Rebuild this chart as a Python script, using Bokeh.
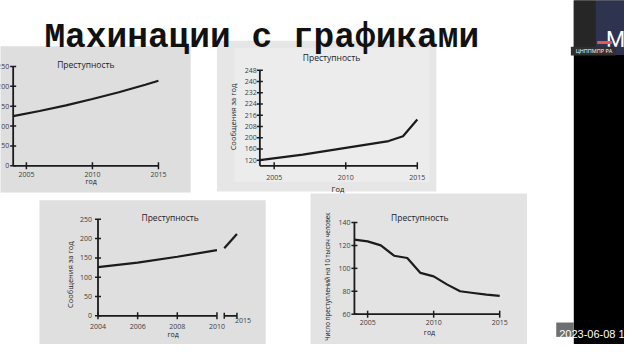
import numpy as np
from bokeh.plotting import figure
from bokeh.models import Range1d
from bokeh.embed import file_html
from bokeh.resources import INLINE
from bokeh.core.properties import value

# ---------------- data ----------------
SLIDE_TITLE = "Махинации с графиками"
CHART_TITLE = "Преступность"
Y_LABEL = "Сообщения за год"
Y_LABEL_4 = "Число преступлений на 10 тысяч человек"

# chart 1 (top-left): y axis from 0
c1_xlim = (2004, 2015)
c1_ylim = (0, 250)
c1_years = [2004, 2006, 2008, 2010, 2012, 2014, 2015]
c1_values = [125, 138, 152, 168, 185, 204, 214]
c1_yticks = [0, 50, 100, 150, 200, 250]
c1_xticks = [2005, 2010, 2015]

# chart 2 (top-right): irregular y axis
c2_xlim = (2004, 2015)
c2_years = [2004, 2007, 2010, 2013, 2014, 2015]
c2_values = [120, 140, 164, 188, 201, 213]
c2_ytick_values = [120, 160, 200, 208, 216, 224, 232, 240, 248]
c2_xticks = [2005, 2010, 2015]

# chart 3 (bottom-left): broken x axis
c3_xlim = (2004, 2010)
c3_xlim_b = (2014, 2015)
c3_ylim = (0, 250)
c3_years = [2004, 2006, 2008, 2010]
c3_values = [126, 138, 153, 170]
c3_years_b = [2014, 2015]
c3_values_b = [175, 212]
c3_yticks = [0, 50, 100, 150, 200, 250]
c3_xticks = [2004, 2006, 2008, 2010]
c3_xticks_b = [2015]

# chart 4 (bottom-right): rate per 10 000 people
c4_xlim = (2004, 2015)
c4_ylim = (60, 140)
c4_years = [2004, 2005, 2006, 2007, 2008, 2009, 2010, 2011, 2012, 2013, 2014, 2015]
c4_values = [125, 123.5, 120, 111, 109, 96, 93, 86, 80, 78.5, 77, 76]
c4_yticks = [60, 80, 100, 120, 140]
c4_xticks = [2005, 2010, 2015]

# ---------------- styling ----------------
INK = "#1b1b1b"
TICK_TXT = "#3c3c3c"
SANS = value("Open Sans")


def Y(y):
    return 360 - y


# the whole 640x360 slide is mapped onto the canvas
p = figure(width=624, height=344, x_range=Range1d(0, 640), y_range=Range1d(0, 360),
           output_backend="svg", toolbar_location=None, min_border=0,
           x_axis_location=None, y_axis_location=None)
p.grid.visible = False
p.outline_line_color = None
p.background_fill_color = "white"
p.border_fill_color = "white"

# photo panels
p.quad(left=[-2, 222, 40, 318], right=[195, 447, 272, 540],
       top=[Y(48), Y(42), Y(209), Y(202)], bottom=[Y(201), Y(200), Y(362), Y(362)],
       fill_color=["#dedede", "#e6e6e6", "#dfdfdf", "#e3e3e3"], line_color=None)
p.quad(left=[240], right=[440], top=[Y(50)], bottom=[Y(190)],
       fill_color="#ececec", line_color=None)

# right black strip & video thumbnail
p.quad(left=[588], right=[642], top=[Y(-2)], bottom=[Y(362)], fill_color="#000000", line_color=None)
p.quad(left=[588], right=[610], top=[Y(-2)], bottom=[Y(57)], fill_color="#262626", line_color=None)
p.quad(left=[610], right=[642], top=[Y(-2)], bottom=[Y(57)], fill_color="#2e3350", line_color=None)
p.text(x=[621], y=[Y(41)], text=["M"], text_color="white", text_font=value("Roboto"),
       text_font_size="22px", text_baseline="alphabetic")
p.quad(left=[612], right=[627], top=[Y(42.5)], bottom=[Y(45.5)], fill_color="#e05a5a", line_color=None)
p.quad(left=[585], right=[631], top=[Y(48.5)], bottom=[Y(57.5)], fill_color="#303030", line_color=None)
p.text(x=[590], y=[Y(53)], text=["ЦНППМПР РА"], text_color="white", text_font=SANS,
       text_font_size="5.5px", text_baseline="middle")

# timestamp
p.quad(left=[570], right=[588], top=[Y(337)], bottom=[Y(352)], fill_color="#6f6f6f", line_color=None)
p.text(x=[573], y=[Y(349)], text=["2023-06-08 1"], text_color="white",
       text_font=value("Liberation Sans"), text_font_size="11px", text_baseline="alphabetic")

# slide title
p.text(x=[45], y=[Y(39)], text=[SLIDE_TITLE], text_color="#111111",
       text_font=value("Liberation Mono"), text_font_style="bold", text_font_size="34.5px",
       text_baseline="alphabetic")


def sub(xs, px, ys, py):
    return p.subplot(x_source=Range1d(*xs), y_source=Range1d(*ys),
                     x_target=Range1d(*px), y_target=Range1d(Y(py[0]), Y(py[1])))


def axes(s, xlim, ylim, xticks, yticks, ylabels, xoff_y, yoff_x, fs="7px"):
    s.line(x=[xlim[0], xlim[0]], y=[ylim[0], ylim[1]], line_color=INK, line_width=1.8)
    s.line(x=[xlim[0], xlim[1]], y=[ylim[0], ylim[0]], line_color=INK, line_width=1.8)
    s.scatter(x=[xlim[0]] * len(yticks), y=yticks, marker="dash", size=6,
              line_color=INK, line_width=1.5)
    s.scatter(x=xticks, y=[ylim[0]] * len(xticks), marker="dash", size=7, angle=np.pi / 2,
              line_color=INK, line_width=1.5)
    s.text(x=[xlim[0]] * len(yticks), y=yticks, text=ylabels, x_offset=yoff_x,
           text_align="right", text_baseline="middle", text_font=SANS,
           text_font_size=fs, text_color=TICK_TXT)
    s.text(x=xticks, y=[ylim[0]] * len(xticks), text=[str(t) for t in xticks], y_offset=xoff_y,
           text_align="center", text_baseline="middle", text_font=SANS,
           text_font_size=fs, text_color=TICK_TXT)


def label(x, y, t, size="8.5px", angle=0.0, color="#222222"):
    p.text(x=[x], y=[Y(y)], text=[t], angle=angle, text_align="center", text_baseline="middle",
           text_font=SANS, text_font_size=size, text_color=color)


# ---- chart 1 ----
s1 = sub(c1_xlim, (13, 162), c1_ylim, (173, 69))
axes(s1, c1_xlim, c1_ylim, c1_xticks, c1_yticks, [str(v) for v in c1_yticks], 9, -4)
s1.line(c1_years, c1_values, line_color=INK, line_width=2.2)
label(87.5, 67, CHART_TITLE)
label(93, 189, "год", size="7px")

# ---- chart 2 ----
c2_pos = list(range(len(c2_ytick_values)))
c2_ylim = (-0.5, c2_pos[-1])
s2 = sub(c2_xlim, (266, 427.5), c2_ylim, (173, 73))
axes(s2, c2_xlim, c2_ylim, c2_xticks, c2_pos, [str(v) for v in c2_ytick_values], 12, -3)
c2_y = np.interp(c2_values, c2_ytick_values, c2_pos)
s2.line(c2_years, c2_y, line_color=INK, line_width=2.2)
label(339.5, 60, CHART_TITLE)
label(346, 197, "Год", size="7.5px")
label(238, 122, Y_LABEL, size="7.5px", angle=np.pi / 2)

# ---- chart 3 ----
s3 = sub(c3_xlim, (100, 222), c3_ylim, (330, 229))
axes(s3, c3_xlim, c3_ylim, c3_xticks, c3_yticks, [str(v) for v in c3_yticks], 11, -6)
s3.line(c3_years, c3_values, line_color=INK, line_width=2.2)
s3b = sub(c3_xlim_b, (229.5, 242.5), c3_ylim, (330, 229))
s3b.line(x=list(c3_xlim_b), y=[c3_ylim[0]] * 2, line_color=INK, line_width=1.8)
s3b.scatter(x=list(c3_xlim_b), y=[c3_ylim[0]] * 2, marker="dash", size=6, angle=np.pi / 2,
            line_color=INK, line_width=1.5)
s3b.text(x=c3_xticks_b, y=[c3_ylim[0]], text=[str(t) for t in c3_xticks_b], x_offset=6,
         y_offset=5, text_align="center", text_baseline="middle", text_font=SANS,
         text_font_size="7px", text_color=TICK_TXT)
s3b.line(c3_years_b, c3_values_b, line_color=INK, line_width=2.2)
label(174, 227, CHART_TITLE)
label(177, 350, "год", size="7px")
label(71, 287, Y_LABEL, size="7.5px", angle=np.pi / 2)

# ---- chart 4 ----
s4 = sub(c4_xlim, (363, 512), c4_ylim, (328.3, 232.3))
axes(s4, c4_xlim, c4_ylim, c4_xticks, c4_yticks, [str(v) for v in c4_yticks], 8, -4)
s4.line(c4_years, c4_values, line_color=INK, line_width=2.2)
label(430, 227, CHART_TITLE)
label(440, 347, "год", size="7px")
label(335, 289, Y_LABEL_4, size="6.3px", angle=np.pi / 2)

open("out.html", "w").write(file_html(p, INLINE))
